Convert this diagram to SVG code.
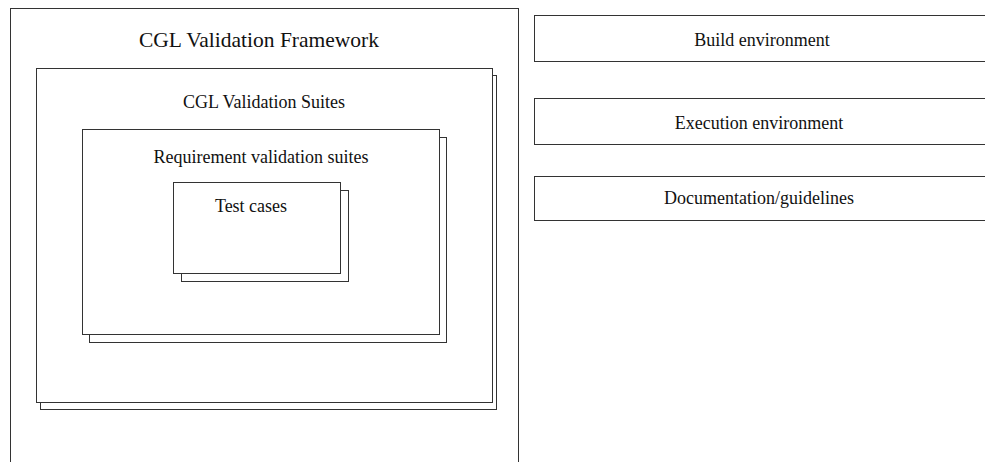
<svg xmlns="http://www.w3.org/2000/svg" width="985" height="462" viewBox="0 0 985 462">
<style>
.box{fill:#fff;stroke:#333;stroke-width:1}
.t{font-family:"Liberation Serif","Times New Roman",serif;font-size:18px;fill:#111;text-anchor:middle}
.title{font-size:21.5px}
</style>
<rect width="985" height="462" fill="#fff"/>
<g id="framework">
<rect class="box" x="10.5" y="8.5" width="508" height="470"/>
<text class="t title" x="259" y="47">CGL Validation Framework</text>
</g>
<g id="suites">
<rect class="box" x="40.5" y="75.5" width="456" height="334"/>
<rect class="box" x="36.5" y="68.5" width="456" height="334"/>
<text class="t" x="264" y="108">CGL Validation Suites</text>
</g>
<g id="requirement">
<rect class="box" x="89.5" y="137.5" width="357" height="205"/>
<rect class="box" x="82.5" y="129.5" width="357" height="205"/>
<text class="t" x="261" y="163">Requirement validation suites</text>
</g>
<g id="testcases">
<rect class="box" x="181.5" y="190.5" width="167" height="91"/>
<rect class="box" x="173.5" y="182.5" width="167" height="91"/>
<text class="t" x="251" y="212">Test cases</text>
</g>
<g id="build">
<rect class="box" x="534.5" y="15.5" width="460" height="46"/>
<text class="t" x="762" y="46">Build environment</text>
</g>
<g id="execution">
<rect class="box" x="534.5" y="98.5" width="460" height="46"/>
<text class="t" x="759" y="129">Execution environment</text>
</g>
<g id="documentation">
<rect class="box" x="534.5" y="176.5" width="460" height="44"/>
<text class="t" x="759" y="204">Documentation/guidelines</text>
</g>
<g id="connectors"/>
</svg>
